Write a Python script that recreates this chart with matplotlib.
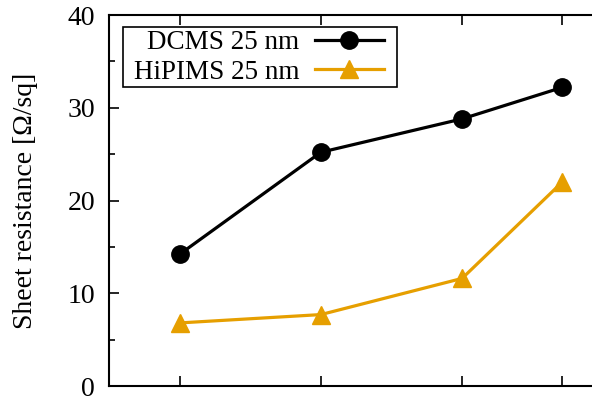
import matplotlib
matplotlib.use("Agg")
import matplotlib.pyplot as plt
from matplotlib.ticker import MultipleLocator
from matplotlib.patches import Rectangle

plt.rcParams['font.family'] = ['Liberation Serif', 'DejaVu Serif']
plt.rcParams['mathtext.fontset'] = 'stix'

x_pos = [1.0, 2.0, 3.0, 3.71]
dcms = [14.2, 25.2, 28.8, 32.2]
hipims = [6.8, 7.7, 11.6, 22.0]
labels = ["DCMS 25 nm", "HiPIMS 25 nm"]
yticks = [0, 10, 20, 30, 40]

W, H = 592, 397
fig = plt.figure(figsize=(W / 100, H / 100), dpi=100)
left, right, bottom, top = 109, 633, 386, 15
ax = fig.add_axes([left / W, (H - bottom) / H, (right - left) / W, (bottom - top) / H])

ax.plot(x_pos, dcms, color='black', lw=2.3, marker='o', ms=12.5, label=labels[0], clip_on=False)
ax.plot(x_pos, hipims, color='#E69F00', lw=2.3, marker='^', ms=12.5, label=labels[1], clip_on=False)

ax.set_xlim(0.5, 4.21)
ax.set_ylim(0, 40)
ax.set_xticks(x_pos)
ax.set_xticklabels([])
ax.set_yticks(yticks)
ax.yaxis.set_minor_locator(MultipleLocator(5))
ax.tick_params(axis='both', which='major', direction='in', length=7.5, width=1.2,
               top=True, right=True, labelsize=20, pad=10)
ax.tick_params(axis='y', which='minor', direction='in', length=4.5, width=1.2, right=True)
for s in ax.spines.values():
    s.set_linewidth(1.5)
ax.set_ylabel('Sheet resistance [Ω/sq]', fontsize=20)
ax.yaxis.set_label_coords((38 - left) / (right - left), 0.5)

# legend frame (pixel box of the reference key)
bx0, by0, bx1, by1 = 123, 27, 397, 87
frame = Rectangle((bx0 / W, 1 - by1 / H), (bx1 - bx0) / W, (by1 - by0) / H,
                  transform=fig.transFigure, facecolor='white', edgecolor='black',
                  lw=1.2, zorder=5)
fig.patches.append(frame)

leg = fig.legend(loc='upper right', bbox_to_anchor=(384 / W, 1 - 30 / H),
                 markerfirst=False, fontsize=19.5, frameon=False,
                 handlelength=2.55, handletextpad=0.58, borderpad=0,
                 labelspacing=0.17, borderaxespad=0)
leg.set_zorder(6)

fig.savefig('out.png', dpi=100)
